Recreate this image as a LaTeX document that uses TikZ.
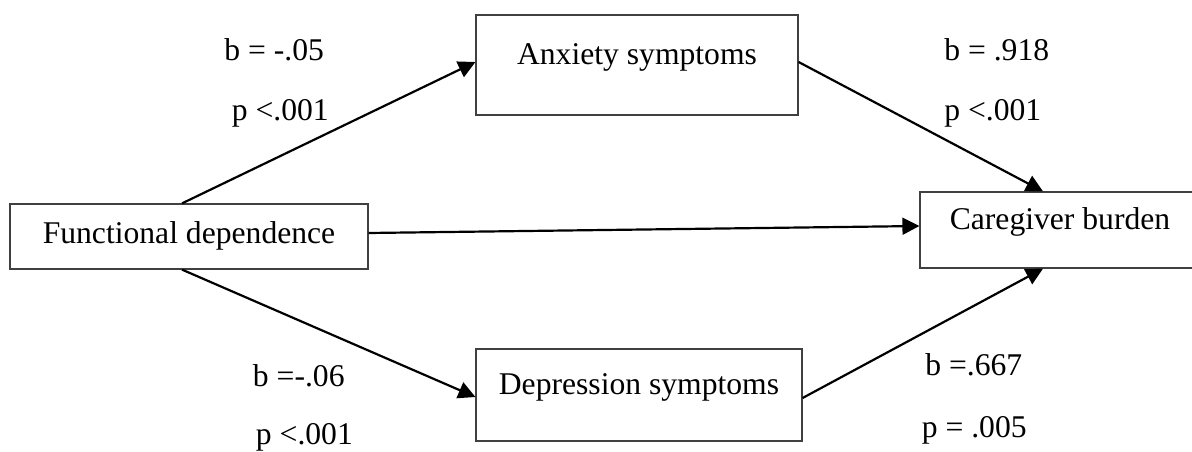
\documentclass[tikz,border=0pt]{standalone}
\usepackage{fontspec}
\setmainfont{Liberation Serif}
\usetikzlibrary{arrows.meta}

\begin{document}
\begin{tikzpicture}[x=0.02cm, y=-0.02cm, font=\fontsize{18}{21.6}\selectfont]
    % Define styles
    \tikzstyle{box} = [rectangle, draw=black!75, line width=0.7pt, text centered, text height=12pt, text depth=4.5pt]
    \tikzstyle{raised} = [text depth=13pt]
    \tikzstyle{coef} = [anchor=base west, inner sep=0pt]
    \tikzstyle{arrow} = [line width=1.25pt, -{Triangle[length=0.34cm, width=0.34cm]}]

    \clip (0,0) rectangle (1192,452);

    % Nodes
    \node (fd) [box, minimum width=7.16cm, minimum height=1.3cm] at (189,236.5) {Functional dependence};
    \node (anx) [box, raised, minimum width=6.44cm, minimum height=2cm] at (637,65) {Anxiety symptoms};
    \node (dep) [box, raised, minimum width=6.52cm, minimum height=1.84cm] at (639,395) {Depression symptoms};
    \node (cb) [box, raised, text depth=12pt, minimum width=5.6cm, minimum height=1.52cm] at (1060,230) {Caregiver burden};

    % Coefficients
    \node (banx) [coef] at (224,61) {b = -.05};
    \node (panx) [coef] at (231.5,121) {p <.001};
    \node (bcb) [coef] at (944,61) {b = .918};
    \node (pcb) [coef] at (944,121) {p <.001};
    \node (bdep) [coef] at (252.6,386) {b =-.06};
    \node (pdep) [coef] at (255.6,444) {p <.001};
    \node (bout) [coef] at (925,375) {b =.667};
    \node (pout) [coef] at (921.5,437) {p = .005};

    % Arrows
    \draw [arrow] ([xshift=-0.14cm]fd.north) -- ([yshift=0.06cm]anx.west);
    \draw [arrow] ([xshift=-0.14cm]fd.south) -- ([yshift=-0.04cm]dep.west);
    \draw [arrow] ([yshift=0.07cm]fd.east) -- ([yshift=0.08cm]cb.west);

    \draw [arrow] ([yshift=0.06cm]anx.east) -- ([xshift=-0.34cm]cb.north);
    \draw [arrow] ([yshift=-0.06cm]dep.east) -- ([xshift=-0.34cm]cb.south);
\end{tikzpicture}
\end{document}
